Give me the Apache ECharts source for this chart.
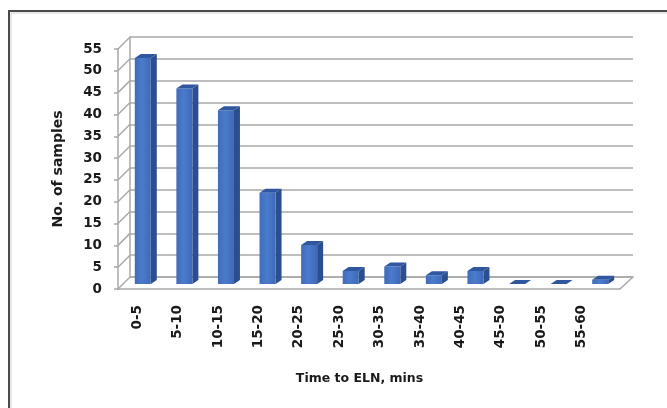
<!DOCTYPE html>
<html>
<head>
<meta charset="utf-8">
<script src="https://cdn.jsdelivr.net/npm/echarts@6/dist/echarts.min.js"></script>
<style>
  html, body { margin: 0; padding: 0; background: #fff; }
  #chart { width: 667px; height: 408px; }
</style>
</head>
<body>
<div id="chart"></div>
<script>
// Histogram of time to ELN, drawn as 3D-style columns
const categories = ['0-5', '5-10', '10-15', '15-20', '20-25', '25-30', '30-35', '35-40', '40-45', '45-50', '50-55', '55-60'];
const samples = [52, 45, 40, 21, 9, 3, 4, 2, 3, 0, 0, 1];
const yMax = 55;
const yStep = 5;
const yTicks = [0, 5, 10, 15, 20, 25, 30, 35, 40, 45, 50, 55];

const FONT = 'DejaVu Sans';
const GRID_COLOR = '#a8a8a8';

// plane layout: front (axes), back wall, bar plane, category labels
const FRONT = { left: 118, right: 47, top: 49, bottom: 119 };
const BACK = { left: 130, right: 34, top: 37, bottom: 131 };
const BARS = { left: 122, right: 46, top: 45, bottom: 124 };
const LABELS = { left: 117, right: 65, top: 49, bottom: 119 };

const DEPTH_X = 6, DEPTH_Y = -4, FACE_W = 16;

const chart = echarts.init(document.getElementById('chart'));

function yAxisBase(gridIndex) {
  return { type: 'value', gridIndex, min: 0, max: yMax, interval: yStep };
}
function xAxisBase(gridIndex) {
  return { type: 'category', gridIndex, data: categories, boundaryGap: true };
}

const option = {
  backgroundColor: '#ffffff',
  animation: false,
  grid: [
    Object.assign({}, FRONT),
    Object.assign({}, BACK),
    Object.assign({}, BARS),
    Object.assign({}, LABELS)
  ],
  xAxis: [
    Object.assign(xAxisBase(0), {
      axisLine: { show: true, lineStyle: { color: GRID_COLOR, width: 1.5 } },
      axisTick: { show: false }, axisLabel: { show: false }, splitLine: { show: false }
    }),
    Object.assign(xAxisBase(1), {
      axisLine: { show: true, lineStyle: { color: GRID_COLOR, width: 1.5 } },
      axisTick: { show: false }, axisLabel: { show: false }, splitLine: { show: false }
    }),
    Object.assign(xAxisBase(2), {
      axisLine: { show: false }, axisTick: { show: false }, axisLabel: { show: false }, splitLine: { show: false }
    }),
    Object.assign(xAxisBase(3), {
      axisLine: { show: false }, axisTick: { show: false }, splitLine: { show: false },
      axisLabel: {
        rotate: 90, margin: 16, interval: 0,
        fontFamily: FONT, fontWeight: 'bold', fontSize: 13.5, color: '#1a1a1a'
      },
      name: 'Time to ELN, mins',
      nameLocation: 'middle',
      nameGap: 83,
      nameTextStyle: { fontFamily: FONT, fontWeight: 'bold', fontSize: 12.5, color: '#1a1a1a' }
    })
  ],
  yAxis: [
    Object.assign(yAxisBase(0), {
      axisLine: { show: true, lineStyle: { color: GRID_COLOR, width: 1.5 } },
      axisTick: { show: true, length: 4, lineStyle: { color: GRID_COLOR, width: 1.5 } },
      splitLine: { show: false },
      axisLabel: { margin: 16, fontFamily: FONT, fontWeight: 'bold', fontSize: 13.5, color: '#1a1a1a' },
      name: 'No. of samples',
      nameLocation: 'middle',
      nameGap: 53,
      nameTextStyle: { fontFamily: FONT, fontWeight: 'bold', fontSize: 14, color: '#1a1a1a' }
    }),
    Object.assign(yAxisBase(1), {
      axisLine: { show: true, lineStyle: { color: GRID_COLOR, width: 1.5 } },
      axisTick: { show: false }, axisLabel: { show: false },
      splitLine: { show: true, lineStyle: { color: GRID_COLOR, width: 1.5 } }
    }),
    Object.assign(yAxisBase(2), {
      axisLine: { show: false }, axisTick: { show: false }, axisLabel: { show: false }, splitLine: { show: false }
    }),
    Object.assign(yAxisBase(3), {
      show: false
    })
  ],
  series: [{
    type: 'custom',
    xAxisIndex: 2,
    yAxisIndex: 2,
    data: samples.map((v, i) => [i, v]),
    encode: { x: 0, y: 1 },
    z: 5,
    renderItem: function (params, api) {
      const top = api.coord([api.value(0), api.value(1)]);
      const base = api.coord([api.value(0), 0]);
      const x0 = top[0] - FACE_W / 2;
      const x1 = top[0] + FACE_W / 2;
      const yt = top[1];
      const yb = base[1];
      return {
        type: 'group',
        children: [
          {
            type: 'polygon',
            shape: { points: [[x1, yt], [x1 + DEPTH_X, yt + DEPTH_Y], [x1 + DEPTH_X, yb + DEPTH_Y], [x1, yb]] },
            style: { fill: '#2b4f8e' }
          },
          {
            type: 'rect',
            shape: { x: x0, y: yt, width: FACE_W, height: yb - yt },
            style: {
              fill: new echarts.graphic.LinearGradient(0, 0, 1, 0, [
                { offset: 0, color: '#3f6bbb' },
                { offset: 0.45, color: '#4c7bcb' },
                { offset: 1, color: '#3e69b8' }
              ])
            }
          },
          {
            type: 'polygon',
            shape: { points: [[x0, yt], [x0 + DEPTH_X, yt + DEPTH_Y], [x1 + DEPTH_X, yt + DEPTH_Y], [x1, yt]] },
            style: { fill: '#2f569e' }
          }
        ]
      };
    }
  }]
};

chart.setOption(option);

// side wall and floor edges joining the front axes to the back wall
const edges = [];
yTicks.forEach(function (v) {
  const yf = chart.convertToPixel({ yAxisIndex: 0 }, v);
  const yb = chart.convertToPixel({ yAxisIndex: 1 }, v);
  edges.push({
    type: 'line',
    shape: { x1: FRONT.left, y1: yf, x2: BACK.left, y2: yb },
    style: { stroke: GRID_COLOR, lineWidth: 1.5 },
    z: 1
  });
});
const yf0 = chart.convertToPixel({ yAxisIndex: 0 }, 0);
const yb0 = chart.convertToPixel({ yAxisIndex: 1 }, 0);
edges.push({
  type: 'line',
  shape: { x1: 667 - FRONT.right, y1: yf0, x2: 667 - BACK.right, y2: yb0 },
  style: { stroke: GRID_COLOR, lineWidth: 1.5 },
  z: 1
});
// outer chart-area frame
edges.push({
  type: 'rect',
  shape: { x: 9, y: 11, width: 680, height: 420 },
  style: { fill: 'none', stroke: '#4a4a4a', lineWidth: 2 },
  z: 0
});
edges.push({
  type: 'rect',
  shape: { x: 11, y: 13, width: 680, height: 420 },
  style: { fill: 'none', stroke: '#d0d0d0', lineWidth: 1 },
  z: 0
});
chart.setOption({ graphic: edges });
</script>
</body>
</html>
